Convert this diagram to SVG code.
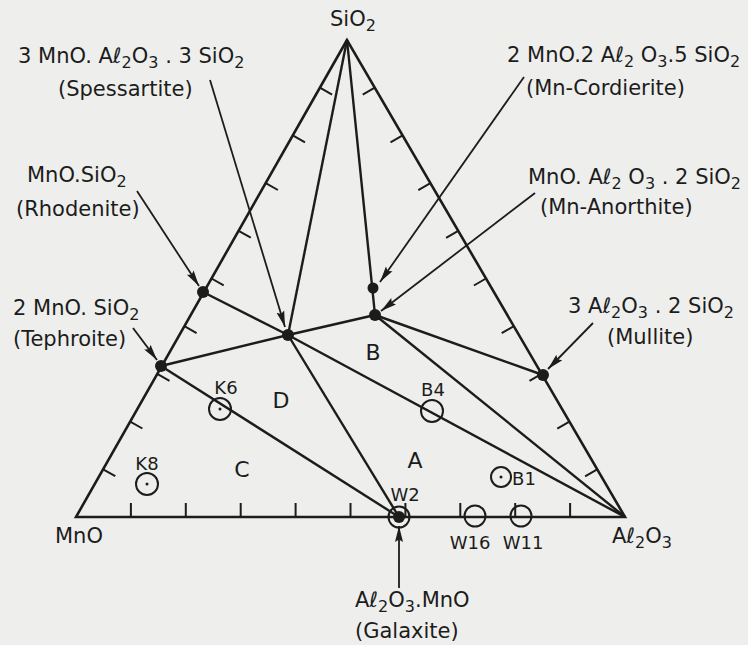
<svg xmlns="http://www.w3.org/2000/svg" width="748" height="645" viewBox="0 0 748 645">
<style>
  text { font-family: "DejaVu Sans", "Liberation Sans", sans-serif; fill: #1c1c1c; }
  .lbl { font-size: 21px; }
  .sub { font-size: 16px; }
  .smp { font-size: 18px; text-anchor: middle; }
  .reg { font-size: 22px; text-anchor: middle; }
  .edge { stroke: #1c1c1c; stroke-width: 2.6; fill: none; stroke-linecap: round; }
  .tick { stroke: #1c1c1c; stroke-width: 2; fill: none; }
  .tie { stroke: #1c1c1c; stroke-width: 2.4; fill: none; }
  .lead { stroke: #1c1c1c; stroke-width: 1.8; fill: none; marker-end: url(#ah); }
  .dot { fill: #1c1c1c; }
  .ring { fill: none; stroke: #1c1c1c; stroke-width: 2; }
</style>
<defs>
  <marker id="ah" markerWidth="17" markerHeight="10" refX="16" refY="4.5" orient="auto" markerUnits="userSpaceOnUse">
    <path d="M0,0.5 L16,4.5 L0,8.5 L2.5,4.5 z" fill="#1c1c1c"/>
  </marker>
</defs>
<rect width="748" height="645" fill="#eeefec"/>

<g id="triangle">
  <path class="edge" d="M347,40 L76,517 L625,517 Z"/>
  <path class="tick" d="M130.9,517 v-14 M185.8,517 v-14 M240.7,517 v-14 M295.6,517 v-14 M350.5,517 v-14 M405.4,517 v-14 M460.3,517 v-14 M515.2,517 v-14 M570.1,517 v-14"/>
  <path class="tick" d="M103.1,469.3 l12.2,6.9 M130.2,421.6 l12.2,6.9 M157.3,373.9 l12.2,6.9 M184.4,326.2 l12.2,6.9 M211.5,278.5 l12.2,6.9 M238.6,230.8 l12.2,6.9 M265.7,183.1 l12.2,6.9 M292.8,135.4 l12.2,6.9 M319.9,87.7 l12.2,6.9"/>
  <path class="tick" d="M374.8,87.7 l-12.1,7 M402.6,135.4 l-12.1,7 M430.4,183.1 l-12.1,7 M458.2,230.8 l-12.1,7 M486,278.5 l-12.1,7 M513.8,326.2 l-12.1,7 M541.6,373.9 l-12.1,7 M569.4,421.6 l-12.1,7 M597.2,469.3 l-12.1,7"/>
</g>

<g id="connectors">
  <line class="tie" x1="347" y1="40" x2="375" y2="315"/>
  <line class="tie" x1="347" y1="40" x2="288" y2="335"/>
  <line class="tie" x1="203" y1="292" x2="288" y2="335"/>
  <line class="tie" x1="161" y1="366" x2="288" y2="335"/>
  <line class="tie" x1="288" y1="335" x2="375" y2="315"/>
  <line class="tie" x1="375" y1="315" x2="543" y2="375"/>
  <line class="tie" x1="161" y1="366" x2="399" y2="517"/>
  <line class="tie" x1="288" y1="335" x2="399" y2="517"/>
  <line class="tie" x1="288" y1="335" x2="625" y2="517"/>
  <line class="tie" x1="375" y1="315" x2="625" y2="517"/>
  <line class="lead" x1="210" y1="80" x2="285" y2="327"/>
  <line class="lead" x1="137" y1="191" x2="199" y2="286"/>
  <line class="lead" x1="133" y1="328" x2="157" y2="360"/>
  <line class="lead" x1="524" y1="77" x2="380" y2="282"/>
  <line class="lead" x1="535" y1="193" x2="381" y2="311"/>
  <line class="lead" x1="593" y1="323" x2="548" y2="369"/>
  <line class="lead" x1="399" y1="588" x2="399" y2="526"/>
</g>

<g id="node-sio2">
  <text class="lbl" x="330" y="26">SiO<tspan class="sub" dy="5">2</tspan></text>
</g>
<g id="node-mno">
  <text class="lbl" x="55" y="543">MnO</text>
</g>
<g id="node-al2o3">
  <text class="lbl" x="612" y="543">Aℓ<tspan class="sub" dy="5">2</tspan><tspan dy="-5">O</tspan><tspan class="sub" dy="5">3</tspan></text>
</g>

<g id="node-spessartite">
  <circle class="dot" cx="288" cy="335" r="6"/>
  <text class="lbl" x="18" y="63">3 MnO. Aℓ<tspan class="sub" dy="5">2</tspan><tspan dy="-5">O</tspan><tspan class="sub" dy="5">3</tspan><tspan dy="-5"> . 3 SiO</tspan><tspan class="sub" dy="5">2</tspan></text>
  <text class="lbl" x="58" y="96">(Spessartite)</text>
</g>
<g id="node-cordierite">
  <circle class="dot" cx="373" cy="288" r="5.5"/>
  <text class="lbl" x="507" y="62">2 MnO.2 Aℓ<tspan class="sub" dy="5">2</tspan><tspan dy="-5"> O</tspan><tspan class="sub" dy="5">3</tspan><tspan dy="-5">.5 SiO</tspan><tspan class="sub" dy="5">2</tspan></text>
  <text class="lbl" x="526" y="95">(Mn-Cordierite)</text>
</g>
<g id="node-rhodonite">
  <circle class="dot" cx="203" cy="292" r="6"/>
  <text class="lbl" x="27" y="182">MnO.SiO<tspan class="sub" dy="5">2</tspan></text>
  <text class="lbl" x="16" y="216">(Rhodenite)</text>
</g>
<g id="node-anorthite">
  <circle class="dot" cx="375" cy="315" r="6"/>
  <text class="lbl" x="528" y="184">MnO. Aℓ<tspan class="sub" dy="5">2</tspan><tspan dy="-5"> O</tspan><tspan class="sub" dy="5">3</tspan><tspan dy="-5"> . 2 SiO</tspan><tspan class="sub" dy="5">2</tspan></text>
  <text class="lbl" x="540" y="214">(Mn-Anorthite)</text>
</g>
<g id="node-tephroite">
  <circle class="dot" cx="161" cy="366" r="6"/>
  <text class="lbl" x="13" y="315">2 MnO. SiO<tspan class="sub" dy="5">2</tspan></text>
  <text class="lbl" x="13" y="346">(Tephroite)</text>
</g>
<g id="node-mullite">
  <circle class="dot" cx="543" cy="375" r="6"/>
  <text class="lbl" x="568" y="313">3 Aℓ<tspan class="sub" dy="5">2</tspan><tspan dy="-5">O</tspan><tspan class="sub" dy="5">3</tspan><tspan dy="-5"> . 2 SiO</tspan><tspan class="sub" dy="5">2</tspan></text>
  <text class="lbl" x="607" y="344">(Mullite)</text>
</g>
<g id="node-galaxite">
  <circle class="ring" cx="399" cy="517" r="10.5"/>
  <circle class="dot" cx="399" cy="517" r="6"/>
  <text class="smp" x="405" y="501">W2</text>
  <text class="lbl" x="355" y="607">Aℓ<tspan class="sub" dy="5">2</tspan><tspan dy="-5">O</tspan><tspan class="sub" dy="5">3</tspan><tspan dy="-5">.MnO</tspan></text>
  <text class="lbl" x="355" y="638">(Galaxite)</text>
</g>

<g id="sample-k6">
  <circle class="ring" cx="220" cy="409" r="11"/>
  <circle class="dot" cx="220" cy="409" r="1.5"/>
  <text class="smp" x="226" y="394">K6</text>
</g>
<g id="sample-k8">
  <circle class="ring" cx="147" cy="484" r="11"/>
  <circle class="dot" cx="147" cy="484" r="1.5"/>
  <text class="smp" x="147" y="470">K8</text>
</g>
<g id="sample-b4">
  <circle class="ring" cx="432" cy="411" r="11"/>
  <text class="smp" x="433" y="396">B4</text>
</g>
<g id="sample-b1">
  <circle class="ring" cx="501" cy="477" r="10"/>
  <circle class="dot" cx="501" cy="477" r="1.5"/>
  <text class="smp" x="524" y="485">B1</text>
</g>
<g id="sample-w16">
  <circle class="ring" cx="475" cy="516" r="10.5"/>
  <text class="smp" x="470" y="549">W16</text>
</g>
<g id="sample-w11">
  <circle class="ring" cx="521" cy="516" r="10.5"/>
  <text class="smp" x="523" y="549">W11</text>
</g>

<g id="regions">
  <text class="reg" x="281" y="408">D</text>
  <text class="reg" x="242" y="477">C</text>
  <text class="reg" x="415" y="468">A</text>
  <text class="reg" x="373" y="360">B</text>
</g>
</svg>
